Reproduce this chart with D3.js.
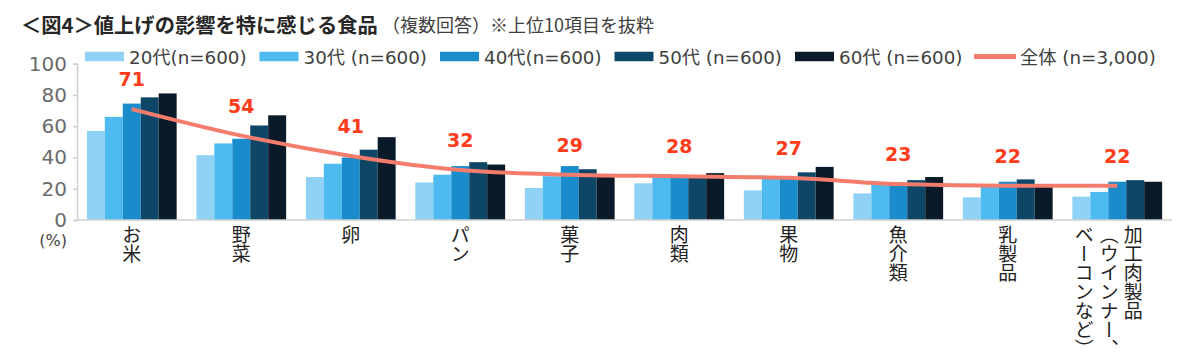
<!DOCTYPE html>
<html>
<head>
<meta charset="utf-8">
<script src="https://cdn.jsdelivr.net/npm/d3@7"></script>
<style>
  html, body { margin: 0; padding: 0; background: #fff; }
  svg { display: block; }
</style>
</head>
<body>
<svg id="chart" width="1200" height="364"></svg>
<script>
/*global d3*/

// categories (each entry = columns of vertical text, right to left)
var categories = ["お米", "野菜", "卵", "パン", "菓子", "肉類", "果物", "魚介類", "乳製品", "加工肉製品"];
var categoryLabels = [
  ["お米"], ["野菜"], ["卵"], ["パン"], ["菓子"], ["肉類"], ["果物"], ["魚介類"], ["乳製品"],
  ["加工肉製品", "（ウインナー、", "ベーコンなど）"]
];

var seriesNames = ["20代(n=600)", "30代 (n=600)", "40代(n=600)", "50代 (n=600)", "60代 (n=600)"];
var lineName = "全体 (n=3,000)";

// values per age group, in category order
var age20 = [57, 41.5, 27.5, 24, 20.5, 23.5, 19, 17, 14.5, 15];
var age30 = [66, 49, 36, 29, 28, 27.5, 27, 23, 21.5, 18];
var age40 = [74.5, 52, 40, 34.5, 34.5, 27.5, 27, 23.5, 24.5, 24.5];
var age50 = [78.5, 60.5, 45, 37, 32.5, 28, 30.5, 25.5, 26, 25.5];
var age60 = [81, 67, 53, 35.5, 29, 30, 34, 27.5, 21.5, 24.5];
var total = [71, 54, 41, 32, 29, 28, 27, 23, 22, 22];

var yTicks = [0, 20, 40, 60, 80, 100];

(function () {
  "use strict";

  var svg = d3.select("#chart"),
    colors = ["#8fd2f5", "#4dbaf0", "#1a8bcb", "#0e4668", "#0a1a29"],
    lineColor = "#f47c6d",
    labelColor = "#ff3c1a",
    cjk = "'Noto Sans CJK JP', 'Noto Sans', sans-serif",
    num = "'DejaVu Sans', Verdana, 'Noto Sans CJK JP', sans-serif",
    series = [age20, age30, age40, age50, age60],
    left = 77,
    right = 1172,
    top = 63.75,
    bottom = 220,
    x0,
    x1,
    y,
    groups,
    line,
    legend,
    items,
    xPos;

  x0 = d3.scaleBand()
    .domain(categories)
    .range([left, right])
    .paddingInner(0.18)
    .paddingOuter(0.09);

  x1 = d3.scaleBand()
    .domain(d3.range(series.length))
    .range([0, x0.bandwidth()]);

  y = d3.scaleLinear().domain([0, 100]).range([bottom, top]);

  // title
  svg.append("text")
    .attr("x", 21)
    .attr("y", 33)
    .attr("font-family", cjk)
    .attr("font-size", 20.3)
    .attr("font-weight", "bold")
    .attr("fill", "#262626")
    .text("＜図4＞値上げの影響を特に感じる食品");

  svg.append("text")
    .attr("x", 382)
    .attr("y", 32)
    .attr("font-family", cjk)
    .attr("font-size", 18)
    .attr("fill", "#404040")
    .text("（複数回答）※上位10項目を抜粋");

  // legend
  legend = svg.append("g").attr("class", "legend");
  var legendX = [85, 259.5, 440, 614.5, 795];
  items = legend.selectAll("g.item")
    .data(seriesNames)
    .enter()
    .append("g")
    .attr("class", "item")
    .attr("transform", function (d, i) { return "translate(" + legendX[i] + ",56.5)"; });
  items.append("rect")
    .attr("x", 0)
    .attr("y", -4.75)
    .attr("width", 39)
    .attr("height", 9.5)
    .attr("fill", function (d, i) { return colors[i]; });
  items.append("text")
    .attr("x", 44)
    .attr("y", 7)
    .attr("font-family", num)
    .attr("font-size", 18.3)
    .attr("fill", "#404040")
    .text(function (d) { return d; });

  legend.append("line")
    .attr("x1", 974).attr("x2", 1016)
    .attr("y1", 56.5).attr("y2", 56.5)
    .attr("stroke", lineColor)
    .attr("stroke-width", 5);
  legend.append("text")
    .attr("x", 1020)
    .attr("y", 63.5)
    .attr("font-family", num)
    .attr("font-size", 18.3)
    .attr("fill", "#404040")
    .text(lineName);

  // y axis
  var yAxis = svg.append("g")
    .attr("transform", "translate(" + left + ",0)")
    .call(d3.axisLeft(y).tickValues(yTicks).tickSize(4).tickPadding(6));
  yAxis.select(".domain").attr("stroke", "#d0d0d0").attr("stroke-width", 1.5);
  yAxis.selectAll(".tick line").attr("stroke", "#d0d0d0").attr("stroke-width", 1.5);
  yAxis.selectAll(".tick text")
    .attr("font-family", num)
    .attr("font-size", 20)
    .attr("fill", "#6b6b6b");

  svg.append("text")
    .attr("x", 67)
    .attr("y", 246)
    .attr("text-anchor", "end")
    .attr("font-family", num)
    .attr("font-size", 16)
    .attr("fill", "#444")
    .text("(%)");

  // bars
  groups = svg.append("g").selectAll("g.group")
    .data(categories)
    .enter()
    .append("g")
    .attr("class", "group")
    .attr("transform", function (d) { return "translate(" + x0(d) + ",0)"; });

  groups.selectAll("rect")
    .data(function (d, ci) {
      return series.map(function (s, si) { return { si: si, v: s[ci] }; });
    })
    .enter()
    .append("rect")
    .attr("x", function (d) { return x1(d.si); })
    .attr("y", function (d) { return y(d.v); })
    .attr("width", x1.bandwidth())
    .attr("height", function (d) { return y(0) - y(d.v); })
    .attr("fill", function (d) { return colors[d.si]; });

  // x baseline
  svg.append("line")
    .attr("x1", left).attr("x2", right)
    .attr("y1", bottom).attr("y2", bottom)
    .attr("stroke", "#d0d0d0")
    .attr("stroke-width", 1.5);

  xPos = function (d, i) { return x0(categories[i]) + x0.bandwidth() / 2; };

  // total line
  line = d3.line()
    .x(xPos)
    .y(function (d) { return y(d); })
    .curve(d3.curveMonotoneX);

  svg.append("path")
    .datum(total)
    .attr("d", line)
    .attr("fill", "none")
    .attr("stroke", lineColor)
    .attr("stroke-width", 4)
    .attr("stroke-linecap", "butt");

  svg.append("g").selectAll("text")
    .data(total)
    .enter()
    .append("text")
    .attr("x", xPos)
    .attr("y", function (d) { return y(d) - 23; })
    .attr("text-anchor", "middle")
    .attr("font-family", num)
    .attr("font-size", 19)
    .attr("font-weight", "bold")
    .attr("fill", labelColor)
    .text(function (d) { return d; });

  // vertical category labels
  var colOffsets = [16, -8, -33];
  categoryLabels.forEach(function (cols, i) {
    var cx = xPos(null, i);
    cols.forEach(function (txt, j) {
      svg.append("text")
        .attr("x", cols.length > 1 ? cx + colOffsets[j] : cx)
        .attr("y", 225)
        .style("writing-mode", "vertical-rl")
        .attr("font-family", cjk)
        .attr("font-size", 19)
        .attr("fill", "#222")
        .text(txt);
    });
  });
}());
</script>
</body>
</html>
